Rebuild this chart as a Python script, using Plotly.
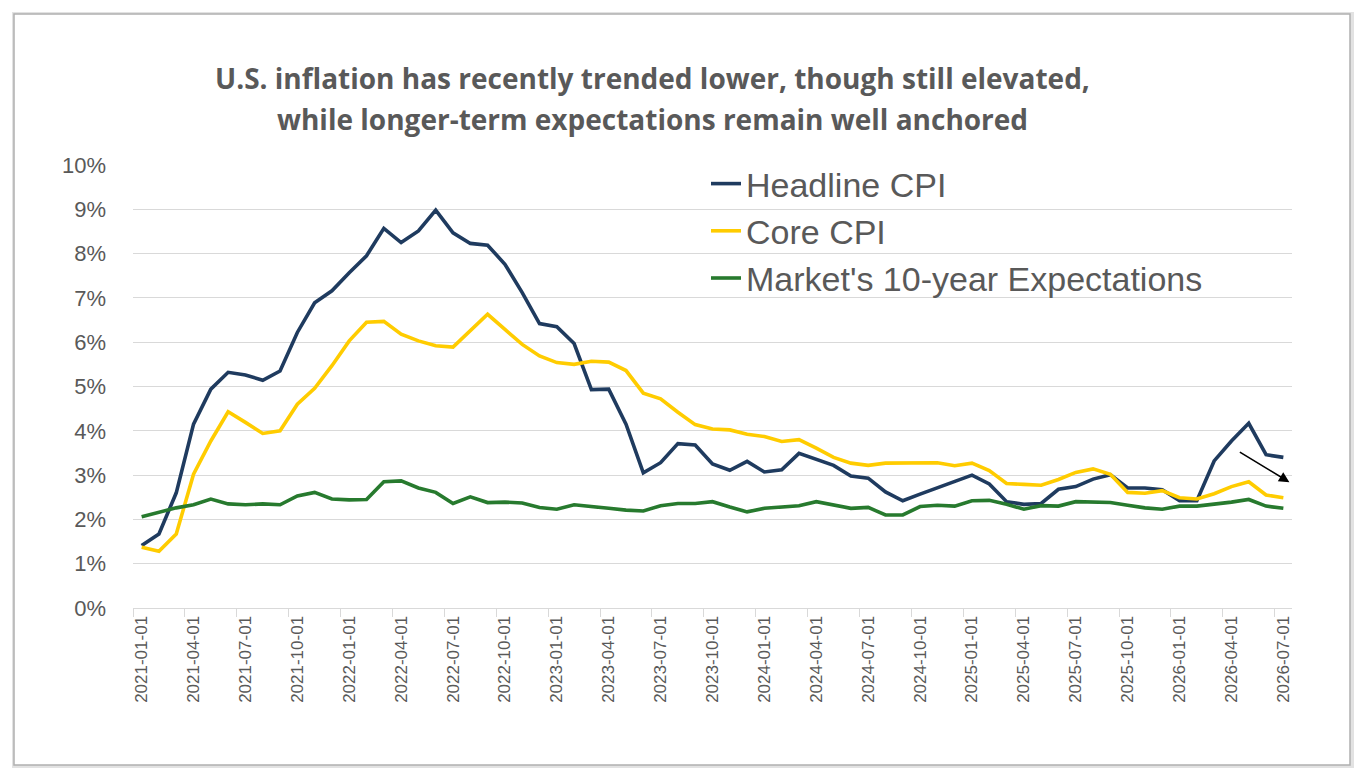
import plotly.graph_objects as go
import pandas as pd

dates = pd.date_range("2021-01-01", "2026-07-01", freq="MS").strftime("%Y-%m-%d").tolist()

headline_cpi = [1.41, 1.67, 2.60, 4.15, 4.94, 5.32, 5.26, 5.14, 5.35, 6.22, 6.89, 7.16,
                7.57, 7.95, 8.57, 8.25, 8.51, 8.98, 8.47, 8.23, 8.19, 7.76, 7.12, 6.42,
                6.35, 5.97, 4.93, 4.94, 4.15, 3.05, 3.28, 3.71, 3.68, 3.25, 3.11, 3.31,
                3.07, 3.12, 3.49, 3.35, 3.22, 2.98, 2.93, 2.62, 2.42, 2.57, 2.71, 2.86,
                3.00, 2.80, 2.40, 2.34, 2.36, 2.68, 2.74, 2.91, 3.01, 2.71, 2.71, 2.67,
                2.42, 2.42, 3.32, 3.77, 4.17, 3.46, 3.40]

core_cpi = [1.37, 1.28, 1.67, 3.02, 3.77, 4.43, 4.19, 3.94, 4.00, 4.60, 4.96, 5.47,
            6.03, 6.45, 6.47, 6.18, 6.03, 5.92, 5.89, 6.26, 6.63, 6.29, 5.95, 5.69,
            5.54, 5.50, 5.57, 5.55, 5.36, 4.85, 4.72, 4.42, 4.14, 4.04, 4.02, 3.92,
            3.87, 3.76, 3.80, 3.61, 3.40, 3.27, 3.22, 3.27, 3.27, 3.29, 3.28, 3.21,
            3.27, 3.10, 2.81, 2.79, 2.77, 2.90, 3.06, 3.14, 3.02, 2.61, 2.59, 2.65,
            2.49, 2.46, 2.58, 2.74, 2.85, 2.55, 2.49]

expectations_10y = [2.06, 2.16, 2.26, 2.33, 2.46, 2.35, 2.33, 2.35, 2.33, 2.53, 2.61, 2.46,
                    2.44, 2.45, 2.85, 2.87, 2.71, 2.61, 2.36, 2.51, 2.38, 2.39, 2.37, 2.27,
                    2.23, 2.33, 2.30, 2.25, 2.21, 2.19, 2.31, 2.36, 2.36, 2.40, 2.28, 2.17,
                    2.25, 2.27, 2.31, 2.40, 2.32, 2.25, 2.27, 2.10, 2.10, 2.29, 2.32, 2.30,
                    2.42, 2.43, 2.34, 2.23, 2.31, 2.30, 2.40, 2.40, 2.38, 2.32, 2.26, 2.23,
                    2.30, 2.30, 2.34, 2.39, 2.45, 2.30, 2.25]

series_names = ["Headline CPI", "Core CPI", "Market's 10-year Expectations"]
series_colors = ["#1f3b5f", "#ffcc00", "#277a2e"]
title_lines = ["U.S. inflation has recently trended lower, though still elevated,",
               "while longer-term expectations remain well anchored"]

# page offset (browser body margin)
O = 8
W, H = 1365 - 2 * O, 777 - 2 * O
L = 133 - O
T = 165 - O
R = W - (1292 - O)
B = H - (608 - O)
pw, ph = W - L - R, H - T - B

def px(x):
    return (x - O - L) / pw

def py(y):
    return (H - B - (y - O)) / ph

fig = go.Figure()
for name, vals, col in zip(series_names, [headline_cpi, core_cpi, expectations_10y], series_colors):
    fig.add_trace(go.Scatter(x=dates, y=vals, mode="lines", name=name, legendgroup=name,
                             line=dict(color=col, width=3.6)))

shapes = [
    dict(type="rect", xref="paper", yref="paper", x0=px(12), x1=px(1354), y0=py(768), y1=py(12),
         fillcolor="#e2e2e2", line=dict(width=0), layer="below"),
    dict(type="rect", xref="paper", yref="paper", x0=px(14), x1=px(1350), y0=py(765), y1=py(14),
         fillcolor="white", line=dict(color="#b0b0b0", width=1.5), layer="below"),
]

annotations = [
    dict(text="<b>" + title_lines[0] + "</b>", xref="paper", yref="paper", x=px(652), y=py(78),
         showarrow=False, xanchor="center", yanchor="middle",
         font=dict(family="Open Sans", size=28, color="#595959")),
    dict(text="<b>" + title_lines[1] + "</b>", xref="paper", yref="paper", x=px(652), y=py(119),
         showarrow=False, xanchor="center", yanchor="middle",
         font=dict(family="Open Sans", size=28, color="#595959")),
    dict(x=66.35, y=2.84, ax=63.4, ay=3.54, xref="x", yref="y", axref="x", ayref="y",
         text="", showarrow=True, arrowhead=2, arrowsize=1.3, arrowwidth=1.6, arrowcolor="#000000"),
]

fig.update_layout(
    width=W, height=H,
    margin=dict(l=L, r=R, t=T, b=B),
    paper_bgcolor="white", plot_bgcolor="rgba(0,0,0,0)",
    shapes=shapes, annotations=annotations,
    showlegend=True,
    legend=dict(x=px(706), y=py(155), xanchor="left", yanchor="top",
                bgcolor="rgba(0,0,0,0)", tracegroupgap=0,
                font=dict(family="Liberation Sans", size=34, color="#595959")),
    xaxis=dict(type="category", tickmode="linear", dtick=3, tickson="boundaries",
               ticks="outside", ticklen=8, tickcolor="#d9d9d9", showgrid=False,
               showline=True, linecolor="#d9d9d9", linewidth=1.2, tickangle=-90,
               tickfont=dict(family="Liberation Sans", size=17, color="#595959"),
               range=[-0.5, len(dates) - 0.5]),
    yaxis=dict(range=[0, 10], dtick=1, ticksuffix="%", showgrid=True, gridcolor="#d9d9d9",
               gridwidth=1.2, zeroline=False, showline=False, ticks="", ticklabelstandoff=26,
               tickfont=dict(family="Liberation Sans", size=22, color="#595959")),
)

fig.write_html("out.html")
